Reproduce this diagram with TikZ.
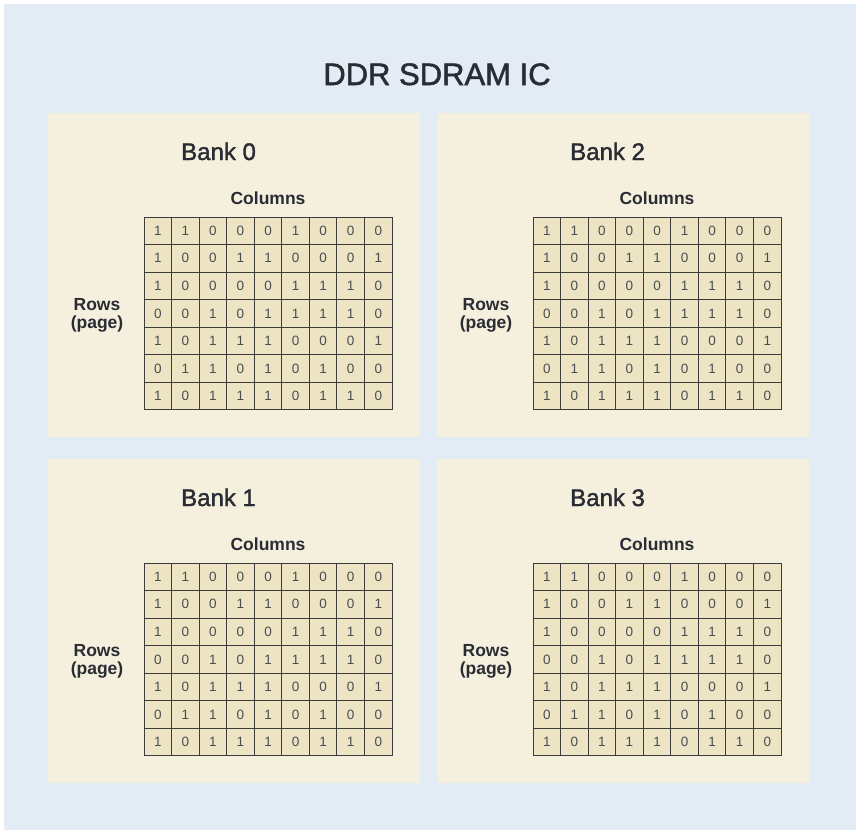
\documentclass[tikz,border=0pt]{standalone}
\usepackage{fontspec}
\setmainfont{Liberation Sans}
\newfontfamily\medfont[FakeBold=1.6]{Liberation Sans}
\definecolor{bgblue}{HTML}{E3EBF4}
\definecolor{panelfill}{HTML}{F5EFDE}
\definecolor{cellfill}{HTML}{EDE4C4}
\definecolor{ink}{HTML}{2A2C33}
\definecolor{gridline}{HTML}{3C3C3C}
\tikzset{
  panelbox/.style={fill=panelfill, draw=none, minimum width=372pt, minimum height=324pt, inner sep=0pt, outer sep=0pt, anchor=north west},
  cellbox/.style={draw=gridline, line width=0.9pt, fill=cellfill, minimum width=27.56pt, minimum height=27.56pt, inner sep=0pt, outer sep=0pt, font=\fontsize{13.5}{14}\selectfont, text=ink!85},
  banklabel/.style={anchor=base west, font=\medfont\fontsize{24}{28}\selectfont, text=ink, inner sep=0pt},
  axislabel/.style={font=\bfseries\fontsize{17.5}{18}\selectfont, text=ink, inner sep=0pt, align=center},
  titlelabel/.style={anchor=base, font=\medfont\fontsize{31}{36}\selectfont, text=ink, inner sep=0pt}
}
\newcommand\drawbank[4]{%
  \begin{scope}[shift={(#2,#3)}]
    \node[panelbox] (#1-panel) at (0,0) {};
    \node[banklabel] (#1-label) at (133,47) {#4};
    \node[axislabel, anchor=base] (#1-cols) at (220,91) {Columns};
    \node[axislabel] (#1-rows) at (49,202) {Rows\\(page)};
    \foreach \rowvals [count=\r] in {{1,1,0,0,0,1,0,0,0},{1,0,0,1,1,0,0,0,1},{1,0,0,0,0,1,1,1,0},{0,0,1,0,1,1,1,1,0},{1,0,1,1,1,0,0,0,1},{0,1,1,0,1,0,1,0,0},{1,0,1,1,1,0,1,1,0}}{
      \foreach \v [count=\c] in \rowvals {
        \node[cellbox] (#1-\r-\c) at ({96+27.56*(\c-0.5)},{104+27.56*(\r-0.5)}) {\v};
      }
    }
  \end{scope}
}
\begin{document}
\begin{tikzpicture}[x=1pt,y=-1pt]
  \useasboundingbox (0,0) rectangle (860,831);
  \fill[bgblue] (4,4) rectangle (856,830);
  \node[titlelabel] (title) at (437,85) {DDR SDRAM IC};
  \drawbank{b0}{48}{113}{Bank 0}
  \drawbank{b2}{437}{113}{Bank 2}
  \drawbank{b1}{48}{459}{Bank 1}
  \drawbank{b3}{437}{459}{Bank 3}
\end{tikzpicture}
\end{document}
